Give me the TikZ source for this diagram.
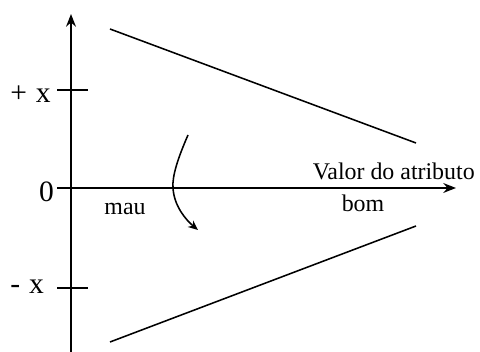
\documentclass[tikz,border=0pt]{standalone}
\usepackage{fontspec}
\setmainfont{Liberation Serif}
\usetikzlibrary{arrows.meta}
\tikzset{
    axislabel/.style={anchor=east,inner sep=1pt,font=\fontsize{21}{24}\selectfont}
}
\begin{document}
\begin{tikzpicture}[font=\fontsize{17}{20}\selectfont,>={Stealth[length=9pt,width=7pt]},x=1cm,y=1cm,line width=1.1pt]
    \useasboundingbox (0,0) rectangle (12.00,8.80);
    \draw[->] (1.775,0.00) -- (1.775,8.45);
    \draw[->] (1.425,4.10) -- (11.40,4.10);

    \draw (1.425,6.55) -- (2.20,6.55);
    \draw (1.425,1.60) -- (2.20,1.60);

    \node[axislabel] (plus-x) at (1.32,6.45) {+\hspace{0.3em}x};
    \node[axislabel] (minus-x) at (1.15,1.62) {-\hspace{0.3em}x};
    \node[axislabel] (zero) at (1.40,4.00) {0};

    \draw (2.75,8.075) -- (10.40,5.225);
    \draw (2.75,0.25) -- (10.40,3.15);

    \draw[->,>={Stealth[length=7pt,width=6pt]}]
        (4.70,5.425)
        .. controls (4.45,4.85) and (4.30,4.40) .. (4.325,4.10)
        .. controls (4.35,3.65) and (4.65,3.30) .. (4.95,3.05);

    \node[anchor=base west,inner sep=0pt] (value-label) at (7.80,4.30)
        {Valor do atributo};
    \node[anchor=base,inner sep=0pt] (bad-label) at (3.125,3.43) {mau};
    \node[anchor=base,inner sep=0pt] (good-label) at (9.075,3.50) {bom};
\end{tikzpicture}
\end{document}
